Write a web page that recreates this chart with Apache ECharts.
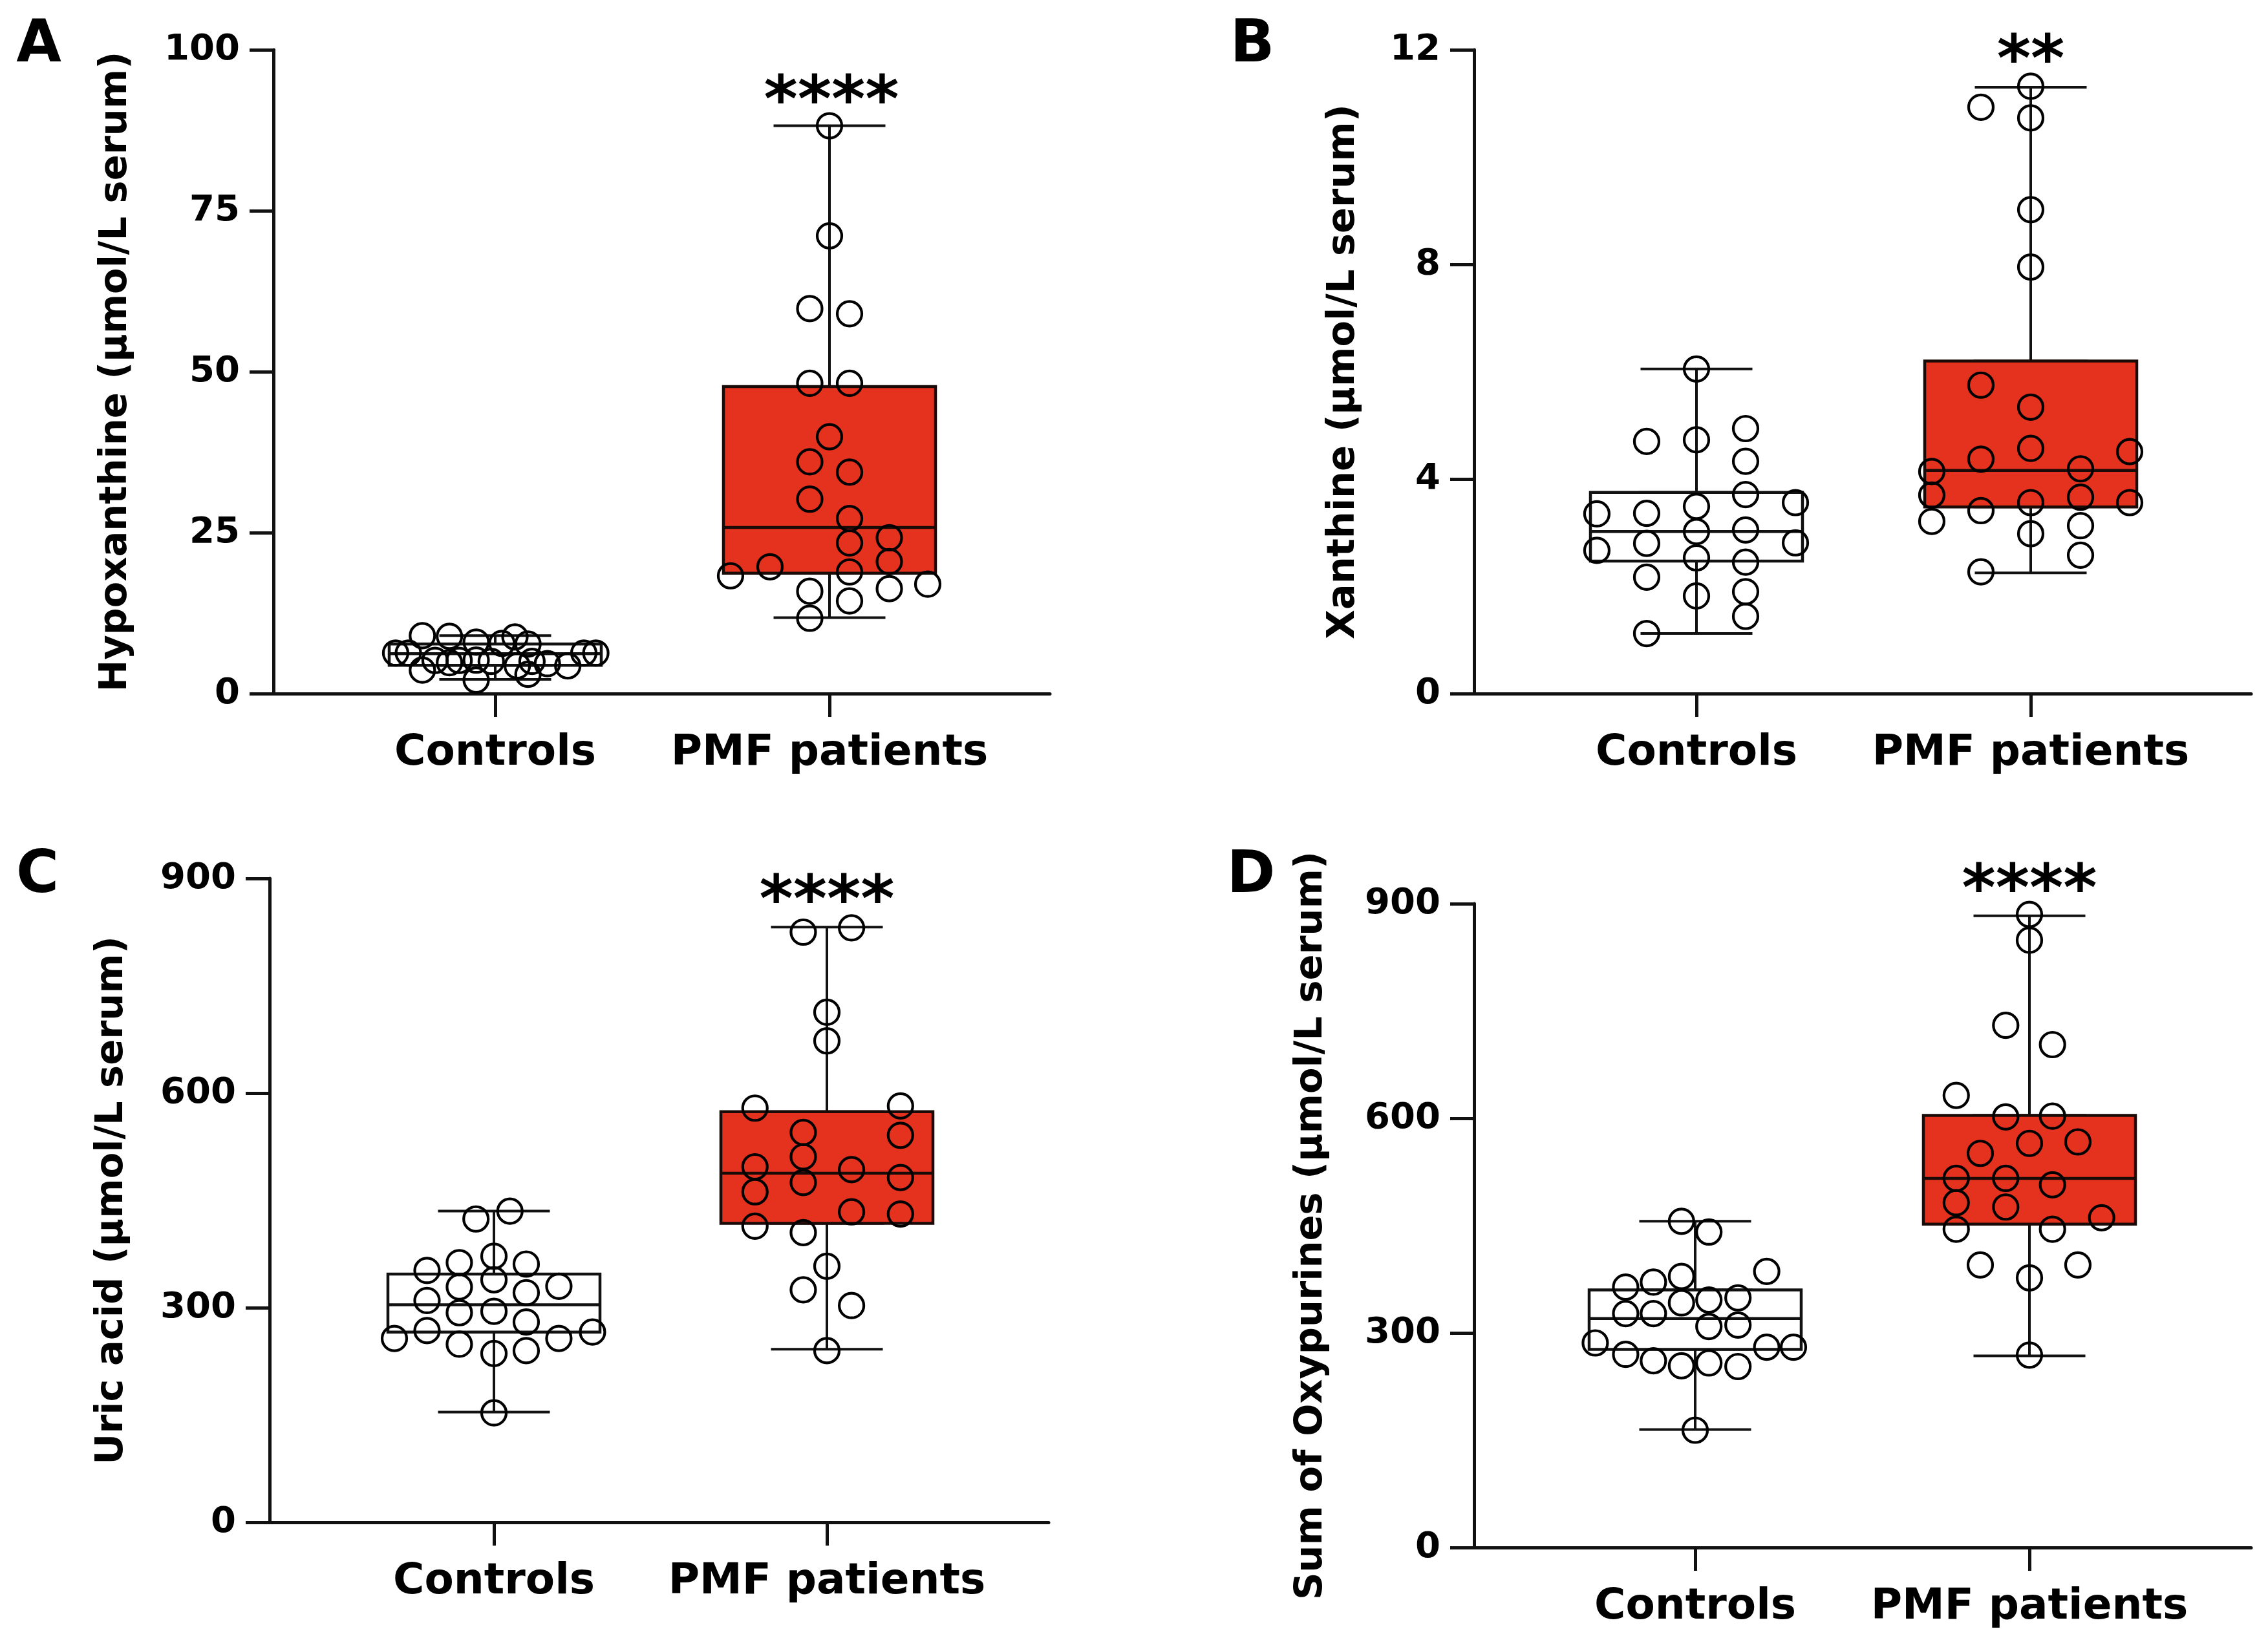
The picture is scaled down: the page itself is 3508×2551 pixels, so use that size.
<!DOCTYPE html>
<html><head><meta charset="utf-8">
<script src="https://cdn.jsdelivr.net/npm/echarts@6/dist/echarts.min.js"></script>
<style>html,body{margin:0;padding:0;background:#fff}#c{width:3508px;height:2551px}</style>
</head><body><div id="c"></div>
<script>
// ---------------- DATA ----------------
const categories = ['Controls', 'PMF patients'];

// Panel A: Hypoxanthine
const hypoTicks = [0, 25, 50, 75, 100];
const hypoCtrl  = [9.0, 8.9, 8.0, 7.8, 8.8, 7.7, 6.3, 6.3, 6.3, 6.3, 3.65, 5.15, 4.8, 5.15, 5.2, 5.0, 4.3, 5.0, 4.65, 4.3, 2.1, 3.0];
const hypoCtrlX = [-0.218, -0.137, -0.057, 0.02, 0.059, 0.098, -0.298, -0.26, 0.265, 0.301, -0.218, -0.18, -0.137, -0.108, -0.057, -0.012, 0.066, 0.11, 0.156, 0.217, -0.057, 0.098];
const hypoPmf   = [88.2, 71.1, 59.8, 59.0, 48.2, 48.2, 39.9, 36.0, 34.4, 30.2, 27.2, 23.4, 24.2, 20.5, 19.7, 18.3, 18.9, 16.3, 17.0, 15.9, 14.4, 11.7];
const hypoPmfX  = [0, 0, -0.059, 0.06, -0.059, 0.06, 0, -0.059, 0.06, -0.059, 0.06, 0.06, 0.179, 0.179, -0.178, -0.296, 0.06, 0.179, 0.294, -0.059, 0.06, -0.059];
const hypoCtrlBox = [2.2, 4.4, 6.2, 7.7, 9.0];
const hypoPmfBox  = [11.8, 18.7, 25.8, 47.7, 88.2];

// Panel B: Xanthine
const xanTicks = [0, 4, 8, 12];
const xanCtrl  = [6.05, 4.70, 4.73, 4.94, 4.33, 3.71, 3.56, 3.35, 3.36, 3.49, 3.02, 3.05, 2.67, 2.80, 2.81, 2.53, 2.45, 2.17, 1.82, 1.90, 1.44, 1.12];
const xanCtrlX = [0, -0.149, 0, 0.147, 0.147, 0.147, 0.296, -0.298, -0.149, 0, 0, 0.147, -0.298, -0.149, 0.296, 0, 0.147, -0.149, 0, 0.147, 0.147, -0.149];
const xanPmf   = [11.32, 10.93, 10.73, 9.02, 7.95, 5.75, 5.34, 4.57, 4.51, 4.37, 4.14, 4.19, 3.70, 3.66, 3.56, 3.56, 3.41, 3.21, 3.13, 2.98, 2.58, 2.27];
const xanPmfX  = [0, -0.149, 0, 0, 0, -0.149, 0, 0, 0.296, -0.149, -0.296, 0.149, -0.296, 0.149, 0, 0.296, -0.149, -0.296, 0.149, 0, 0.149, -0.149];
const xanCtrlBox = [1.12, 2.47, 3.02, 3.75, 6.05];
const xanPmfBox  = [2.25, 3.48, 4.16, 6.20, 11.3];

// Panel C: Uric acid
const uricTicks = [0, 300, 600, 900];
const uricCtrl  = [435, 424, 372, 352, 363, 361, 339, 329, 321, 330, 310, 295, 293, 280, 268, 257, 266, 257, 249, 236, 240, 153];
const uricCtrlX = [0.048, -0.054, 0, -0.201, -0.104, 0.097, 0, -0.104, 0.097, 0.195, -0.201, 0, -0.104, 0.097, -0.201, -0.299, 0.296, 0.195, -0.104, 0, 0.097, 0];
const uricPmf   = [825, 831, 713, 673, 579, 582, 545, 541, 511, 497, 493, 475, 482, 462, 434, 431, 414, 405, 358, 325, 303, 240];
const uricPmfX  = [-0.071, 0.074, 0, 0, -0.216, 0.221, -0.071, 0.221, -0.071, -0.216, 0.074, -0.071, 0.221, -0.216, 0.074, 0.221, -0.216, -0.071, 0, -0.071, 0.074, 0];
const uricCtrlBox = [154, 266, 304, 347, 435];
const uricPmfBox  = [242, 418, 488, 574, 832];

// Panel D: Sum of Oxypurines
const oxyTicks = [0, 300, 600, 900];
const oxyCtrl  = [456, 441, 386, 379, 371, 364, 342, 346, 349, 327, 327, 309, 311, 286, 280, 280, 270, 261, 254, 258, 253, 164];
const oxyCtrlX = [-0.041, 0.041, 0.214, -0.041, -0.125, -0.208, -0.041, 0.041, 0.128, -0.208, -0.125, 0.041, 0.128, -0.299, 0.214, 0.294, -0.208, -0.125, -0.041, 0.041, 0.128, 0];
const oxyPmf   = [885, 849, 730, 703, 632, 602, 603, 565, 567, 551, 516, 516, 507, 482, 476, 461, 445, 445, 395, 395, 377, 269];
const oxyPmfX  = [0, 0, -0.071, 0.069, -0.219, -0.071, 0.069, 0, 0.145, -0.147, -0.219, -0.071, 0.069, -0.219, -0.071, 0.216, -0.219, 0.069, -0.147, 0.145, 0, 0];
const oxyCtrlBox = [165, 277, 320, 360, 456];
const oxyPmfBox  = [268, 452, 516, 604, 883];

const yTitles = ['Hypoxanthine (\u03bcmol/L serum)', 'Xanthine (\u03bcmol/L serum)', 'Uric acid (\u03bcmol/L serum)', 'Sum of Oxypurines (\u03bcmol/L serum)'];
const panelLetters = ['A', 'B', 'C', 'D'];
const stars = ['****', '**', '****', '****'];

// ---------------- LAYOUT / STYLE ----------------
const FONT = 'DejaVu Sans';
const RED = '#e5321f';
const layouts = [
  {axisLeft: 423,  top: 77,   axisWidth: 1201, height: 996, boxLeft: 507.5,  boxW: 1034, nameGap: 214, letter: [60, 72],     star: [1286, 140]},
  {axisLeft: 2280, top: 77,   axisWidth: 1202, height: 996, boxLeft: 2365.5, boxW: 1034, nameGap: 172, letter: [1937, 72],   star: [3141, 77]},
  {axisLeft: 417,  top: 1359, axisWidth: 1205, height: 996, boxLeft: 506.5,  boxW: 1030, nameGap: 214, letter: [58, 1357],   star: [1279, 1377]},
  {axisLeft: 2280, top: 1398, axisWidth: 1202, height: 996, boxLeft: 2363.5, boxW: 1034, nameGap: 222, letter: [1935, 1357], star: [3139, 1360]}
];
const panels = [
  {ticks: hypoTicks, ctrl: hypoCtrl, ctrlX: hypoCtrlX, pmf: hypoPmf, pmfX: hypoPmfX, ctrlBox: hypoCtrlBox, pmfBox: hypoPmfBox},
  {ticks: xanTicks,  ctrl: xanCtrl,  ctrlX: xanCtrlX,  pmf: xanPmf,  pmfX: xanPmfX,  ctrlBox: xanCtrlBox,  pmfBox: xanPmfBox},
  {ticks: uricTicks, ctrl: uricCtrl, ctrlX: uricCtrlX, pmf: uricPmf, pmfX: uricPmfX, ctrlBox: uricCtrlBox, pmfBox: uricPmfBox},
  {ticks: oxyTicks,  ctrl: oxyCtrl,  ctrlX: oxyCtrlX,  pmf: oxyPmf,  pmfX: oxyPmfX,  ctrlBox: oxyCtrlBox,  pmfBox: oxyPmfBox}
];

const grid = [], xAxis = [], yAxis = [], series = [], graphic = [];

panels.forEach((p, i) => {
  const L = layouts[i];
  const tmin = p.ticks[0], tmax = p.ticks[p.ticks.length - 1], tint = p.ticks[1] - p.ticks[0];
  grid.push({left: L.axisLeft, top: L.top, width: L.axisWidth, height: L.height, outerBoundsMode: 'none', containLabel: false});
  grid.push({left: L.boxLeft, top: L.top, width: L.boxW, height: L.height, outerBoundsMode: 'none', containLabel: false});

  // x axes: 4 per panel
  xAxis.push({type: 'value', gridIndex: 2 * i, min: 0, max: 1,
    axisLine: {show: true, onZero: false, lineStyle: {color: '#111', width: 5}},
    axisTick: {show: false}, axisLabel: {show: false}, splitLine: {show: false}});
  xAxis.push({type: 'category', gridIndex: 2 * i + 1, data: categories,
    axisLine: {show: false},
    axisTick: {show: true, alignWithLabel: true, length: 36, lineStyle: {color: '#111', width: 5}},
    axisLabel: {show: true, interval: 0, margin: 60, color: '#000', fontFamily: FONT, fontWeight: 'bold', fontSize: 66},
    splitLine: {show: false}});
  xAxis.push({type: 'value', gridIndex: 2 * i + 1, min: -0.5, max: 1.5, show: false});
  xAxis.push({type: 'category', gridIndex: 2 * i + 1, data: categories, show: false});

  // y axes
  yAxis.push({type: 'value', gridIndex: 2 * i, min: tmin, max: tmax, interval: tint,
    name: yTitles[i], nameLocation: 'middle', nameGap: L.nameGap,
    nameTextStyle: {color: '#000', fontFamily: FONT, fontWeight: 'bold', fontSize: 59},
    axisLine: {show: true, lineStyle: {color: '#111', width: 5}},
    axisTick: {show: true, length: 37, lineStyle: {color: '#111', width: 5}},
    axisLabel: {show: true, margin: 52, color: '#000', fontFamily: FONT, fontWeight: 'bold', fontSize: 56},
    splitLine: {show: false}});
  yAxis.push({type: 'value', gridIndex: 2 * i + 1, min: tmin, max: tmax, show: false});

  // whiskers + caps (narrow), on its own category axis so it is not grouped with the body
  series.push({type: 'boxplot', xAxisIndex: 4 * i + 3, yAxisIndex: 2 * i + 1,
    boxWidth: [173, 173], silent: true, z: 2,
    itemStyle: {color: '#fff', borderColor: '#111', borderWidth: 4},
    emphasis: {disabled: true},
    data: [p.ctrlBox, p.pmfBox]});
  // box body with median
  const body = b => [b[1], b[1], b[2], b[3], b[3]];
  series.push({type: 'boxplot', xAxisIndex: 4 * i + 1, yAxisIndex: 2 * i + 1,
    boxWidth: [328, 328], silent: true, z: 3,
    itemStyle: {borderColor: '#111', borderWidth: 4.5},
    emphasis: {disabled: true},
    data: [
      {value: body(p.ctrlBox), itemStyle: {color: '#fff', borderColor: '#111', borderWidth: 4.5}},
      {value: body(p.pmfBox),  itemStyle: {color: RED, borderColor: '#1a0a08', borderWidth: 4.5}}
    ]});
  // individual points
  const pts = p.ctrl.map((v, k) => [0 + p.ctrlX[k], v]).concat(p.pmf.map((v, k) => [1 + p.pmfX[k], v]));
  series.push({type: 'scatter', xAxisIndex: 4 * i + 2, yAxisIndex: 2 * i + 1, z: 5, silent: true,
    symbol: 'circle', symbolSize: 38,
    itemStyle: {color: 'rgba(0,0,0,0)', borderColor: '#000', borderWidth: 4.2, opacity: 1},
    emphasis: {disabled: true},
    data: pts});

  graphic.push({type: 'text', x: L.letter[0], y: L.letter[1],
    style: {text: panelLetters[i], fill: '#000', font: 'bold 90px "' + FONT + '"', textAlign: 'center', textVerticalAlign: 'middle'}});
  graphic.push({type: 'text', x: L.star[0], y: L.star[1] + 22,
    style: {text: stars[i], fill: '#000', font: 'bold 100px "' + FONT + '"', textAlign: 'center', textVerticalAlign: 'middle'}});
});

const chart = echarts.init(document.getElementById('c'), null, {renderer: 'canvas'});
chart.setOption({
  backgroundColor: '#fff',
  animation: false,
  grid, xAxis, yAxis, series, graphic
});
</script>
</body></html>
